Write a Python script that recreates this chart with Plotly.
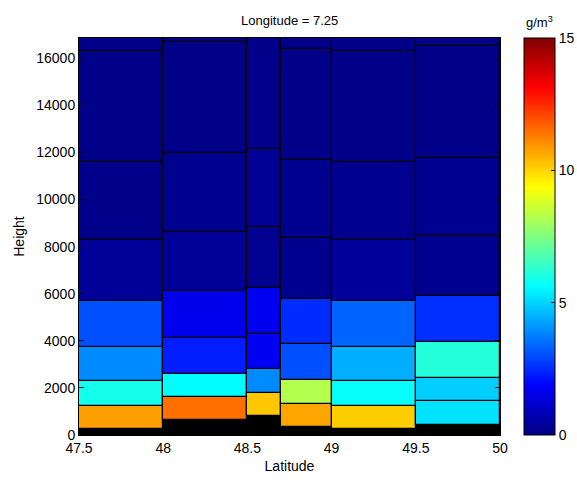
import plotly.graph_objects as go

# ---- data ----
lat_left = [47.5, 48.0, 48.5, 48.7, 49.0, 49.5]
lat_right = [48.0, 48.5, 48.7, 49.0, 49.5, 50.0]
ground_top = [264, 617, 800, 332, 264, 417]
# layer top heights (m) per column, bottom -> top
layer_tops = [
    [1243, 2277, 3736, 5711, 8277, 11583, 16319, 16860],
    [1626, 2604, 4136, 6106, 8630, 11966, 16689, 16860],
    [1779, 2817, 4306, 6264, 8817, 12136, 16860],
    [1328, 2340, 3851, 5766, 8349, 11681, 16391, 16860],
    [1243, 2277, 3736, 5711, 8277, 11583, 16319, 16860],
    [1438, 2426, 3936, 5894, 8447, 11779, 16519, 16860],
]
# water content (g/m^3) per layer
layer_values = [
    [10.8, 5.9, 3.9, 3.05, 0.35, 0.15, 0.12, 0.12],
    [11.5, 5.6, 2.3, 1.6, 0.35, 0.2, 0.12, 0.12],
    [10.2, 3.9, 1.7, 1.65, 0.25, 0.3, 0.15],
    [10.7, 8.25, 3.05, 2.5, 0.2, 0.2, 0.12, 0.12],
    [10.1, 5.7, 4.45, 3.35, 0.4, 0.2, 0.12, 0.12],
    [5.2, 4.9, 6.15, 2.55, 0.2, 0.2, 0.12, 0.12],
]
x_ticks = [47.5, 48, 48.5, 49, 49.5, 50]
x_ticklabels = ["47.5", "48", "48.5", "49", "49.5", "50"]
y_ticks = [0, 2000, 4000, 6000, 8000, 10000, 12000, 14000, 16000]
y_ticklabels = [str(v) for v in y_ticks]
cb_ticks = [0, 5, 10, 15]
y_max = 16860

jet = [[0.0, "rgb(0,0,128)"], [0.125, "rgb(0,0,255)"], [0.375, "rgb(0,255,255)"],
       [0.625, "rgb(255,255,0)"], [0.875, "rgb(255,0,0)"], [1.0, "rgb(128,0,0)"]]

xs, ys, bases, widths, vals = [], [], [], [], []
for i in range(len(lat_left)):
    c = (lat_left[i] + lat_right[i]) / 2
    w = lat_right[i] - lat_left[i]
    prev = ground_top[i]
    for top, v in zip(layer_tops[i], layer_values[i]):
        xs.append(c); bases.append(prev); ys.append(top - prev); widths.append(w); vals.append(v)
        prev = top

fig = go.Figure()
fig.add_trace(go.Bar(
    x=[(l + r) / 2 for l, r in zip(lat_left, lat_right)],
    y=ground_top, base=[0] * len(ground_top),
    width=[r - l for l, r in zip(lat_left, lat_right)],
    marker=dict(color="black", line=dict(color="black", width=1)),
    showlegend=False, hoverinfo="skip"))
fig.add_trace(go.Bar(
    x=xs, y=ys, base=bases, width=widths,
    marker=dict(color=vals, colorscale=jet, cmin=0, cmax=15,
                line=dict(color="black", width=1.2),
                colorbar=dict(x=1.057, xanchor="left", y=0, yanchor="bottom",
                              len=1, lenmode="fraction", thickness=31,
                              xpad=0, ypad=0,
                              tickvals=cb_ticks, ticks="inside", ticklen=4,
                              tickcolor="black", outlinecolor="black", outlinewidth=1,
                              tickfont=dict(size=14, color="black"))),
    showlegend=False))

font = "Liberation Sans, Arial, sans-serif"
fig.update_layout(
    width=577, height=490,
    margin=dict(l=79, r=77, t=38, b=55, autoexpand=False),
    paper_bgcolor="white", plot_bgcolor="white",
    barmode="overlay", bargap=0,
    font=dict(family=font, size=14, color="black"),
    xaxis=dict(range=[47.5, 50], tickvals=x_ticks, ticktext=x_ticklabels,
               ticks="inside", ticklen=5, tickcolor="black",
               showline=True, linecolor="black", linewidth=1, mirror="ticks",
               showgrid=False, zeroline=False,
               title=dict(text="Latitude", standoff=6, font=dict(size=14))),
    yaxis=dict(range=[0, y_max], tickvals=y_ticks, ticktext=y_ticklabels,
               ticks="inside", ticklen=5, tickcolor="black",
               showline=True, linecolor="black", linewidth=1, mirror="ticks",
               showgrid=False, zeroline=False,
               title=dict(text="Height", standoff=8, font=dict(size=14))),
    annotations=[
        dict(text="Longitude = 7.25", x=0.5, y=1, xref="paper", yref="paper",
             xanchor="center", yanchor="bottom", yshift=8, showarrow=False,
             font=dict(size=13)),
        dict(text="g/m<sup>3</sup>", x=1.094, y=1, xref="paper", yref="paper",
             xanchor="center", yanchor="bottom", yshift=6, showarrow=False,
             font=dict(size=13)),
    ],
)
fig.write_html("out.html")
